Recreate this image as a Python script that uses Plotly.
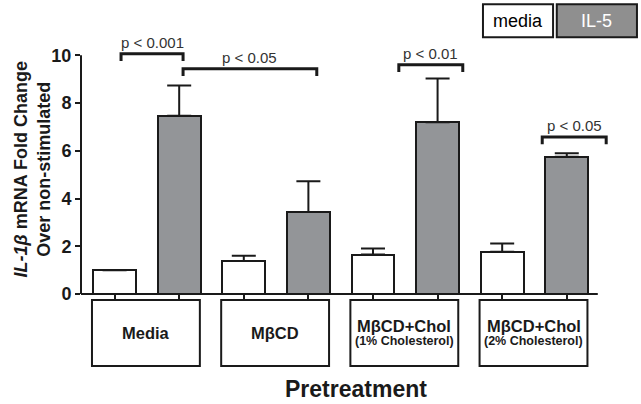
import plotly.graph_objects as go

# ---- data ----
group_line1 = ["Media", "MβCD", "MβCD+Chol", "MβCD+Chol"]
group_line2 = ["", "", "(1% Cholesterol)", "(2% Cholesterol)"]
media_vals = [1.0, 1.38, 1.65, 1.77]
media_err = [0.0, 0.22, 0.26, 0.35]
il5_vals = [7.47, 3.44, 7.2, 5.75]
il5_err = [1.27, 1.28, 1.83, 0.15]
sig_labels = ["p < 0.001", "p < 0.05", "p < 0.01", "p < 0.05"]
sig_x0 = [0.10, 1.06, 4.40, 6.62]
sig_x1 = [1.06, 3.13, 5.39, 7.61]
sig_top = [10.07, 9.44, 9.61, 6.58]
y_ticks = [0, 2, 4, 6, 8, 10]

FONT = "Liberation Sans, Arial, sans-serif"
GRAY = "#939598"
INK = "#1a1a1a"

XMIN, XMAX = -0.52, 7.7
YMIN, YMAX = 0, 10.6

media_x = [2 * i for i in range(len(group_line1))]
il5_x = [2 * i + 1 for i in range(len(group_line1))]

fig = go.Figure()
fig.add_trace(go.Bar(
    x=media_x, y=media_vals, width=0.665, name="media",
    marker=dict(color="white", line=dict(color=INK, width=2)),
    error_y=dict(type="data", array=media_err, arrayminus=[0] * 4, symmetric=False,
                 color=INK, thickness=2, width=12, visible=True),
    showlegend=False, hoverinfo="skip"))
fig.add_trace(go.Bar(
    x=il5_x, y=il5_vals, width=0.665, name="IL-5",
    marker=dict(color=GRAY, line=dict(color=INK, width=2)),
    error_y=dict(type="data", array=il5_err, arrayminus=[0] * 4, symmetric=False,
                 color=INK, thickness=2, width=12, visible=True),
    showlegend=False, hoverinfo="skip"))

shapes = []
annotations = []

# axis lines
shapes.append(dict(type="line", xref="paper", yref="y", x0=0, x1=0, y0=0, y1=10,
                   line=dict(color=INK, width=2)))
shapes.append(dict(type="line", xref="x", yref="paper", x0=XMIN, x1=7.48, y0=0, y1=0,
                   line=dict(color=INK, width=2)))

# significance brackets
for lab, a, b, t in zip(sig_labels, sig_x0, sig_x1, sig_top):
    d = 0.31
    shapes.append(dict(type="path", xref="x", yref="y",
                       path=f"M {a},{t - d} L {a},{t} L {b},{t} L {b},{t - d}",
                       line=dict(color=INK, width=3)))
    annotations.append(dict(x=(a + b) / 2, y=t + 0.47, xref="x", yref="y", text=lab,
                            showarrow=False, xanchor="center", yanchor="middle",
                            font=dict(family=FONT, size=15, color="#333333")))

# category boxes below axis
for i, (l1, l2) in enumerate(zip(group_line1, group_line2)):
    x0 = media_x[i] - 0.35
    x1 = il5_x[i] + 0.32
    shapes.append(dict(type="rect", xref="x", yref="paper", x0=x0, x1=x1,
                       y0=-0.285, y1=-0.024, line=dict(color=INK, width=2),
                       fillcolor="white"))
    xc = (x0 + x1) / 2
    if l2:
        annotations.append(dict(x=xc, y=-0.128, xref="x", yref="paper",
                                text=f"<b>{l1}</b>", showarrow=False,
                                xanchor="center", yanchor="middle",
                                font=dict(family=FONT, size=16.5, color=INK)))
        annotations.append(dict(x=xc, y=-0.186, xref="x", yref="paper",
                                text=f"<b>{l2}</b>", showarrow=False,
                                xanchor="center", yanchor="middle",
                                font=dict(family=FONT, size=12.5, color=INK)))
    else:
        annotations.append(dict(x=xc, y=-0.154, xref="x", yref="paper",
                                text=f"<b>{l1}</b>", showarrow=False,
                                xanchor="center", yanchor="middle",
                                font=dict(family=FONT, size=16.5, color=INK)))

# legend boxes
shapes.append(dict(type="rect", xref="paper", yref="paper", x0=0.757, x1=0.889,
                   y0=1.015, y1=1.145, line=dict(color=INK, width=2), fillcolor="white"))
shapes.append(dict(type="rect", xref="paper", yref="paper", x0=0.896, x1=1.047,
                   y0=1.015, y1=1.145, line=dict(color=INK, width=2), fillcolor="#8f8f8f"))
annotations.append(dict(x=0.823, y=1.08, xref="paper", yref="paper", text="media",
                        showarrow=False, xanchor="center", yanchor="middle",
                        font=dict(family=FONT, size=18, color="black")))
annotations.append(dict(x=0.9715, y=1.08, xref="paper", yref="paper", text="IL-5",
                        showarrow=False, xanchor="center", yanchor="middle",
                        font=dict(family=FONT, size=18, color="white")))

# y axis title
annotations.append(dict(x=-0.092, y=0.493, xref="paper", yref="paper", textangle=-90,
                        text="<b><i>IL-1β</i> mRNA Fold Change<br>Over non-stimulated</b>",
                        showarrow=False, xanchor="center", yanchor="middle",
                        font=dict(family=FONT, size=18, color=INK)))
# x axis title
annotations.append(dict(x=0.518, y=-0.375, xref="paper", yref="paper",
                        text="<b>Pretreatment</b>", showarrow=False,
                        xanchor="center", yanchor="middle",
                        font=dict(family=FONT, size=23, color=INK)))

fig.update_layout(
    width=641, height=404,
    margin=dict(l=81, r=29, t=41, b=110),
    plot_bgcolor="white", paper_bgcolor="white",
    shapes=shapes, annotations=annotations,
    xaxis=dict(range=[XMIN, XMAX], tickvals=media_x + il5_x, showticklabels=False,
               ticks="outside", ticklen=7, tickwidth=2, tickcolor=INK,
               showgrid=False, zeroline=False, showline=False, fixedrange=True),
    yaxis=dict(range=[YMIN, YMAX], tickvals=y_ticks, ticktext=[f"<b>{v}</b>" for v in y_ticks],
               ticks="outside", ticklen=5, tickwidth=2, tickcolor=INK,
               tickfont=dict(family=FONT, size=18, color=INK),
               showgrid=False, zeroline=False, showline=False, fixedrange=True),
    bargap=0, barmode="overlay",
)

fig.write_html("out.html", config={"displayModeBar": False},
               post_script="document.body.style.margin='0';")
